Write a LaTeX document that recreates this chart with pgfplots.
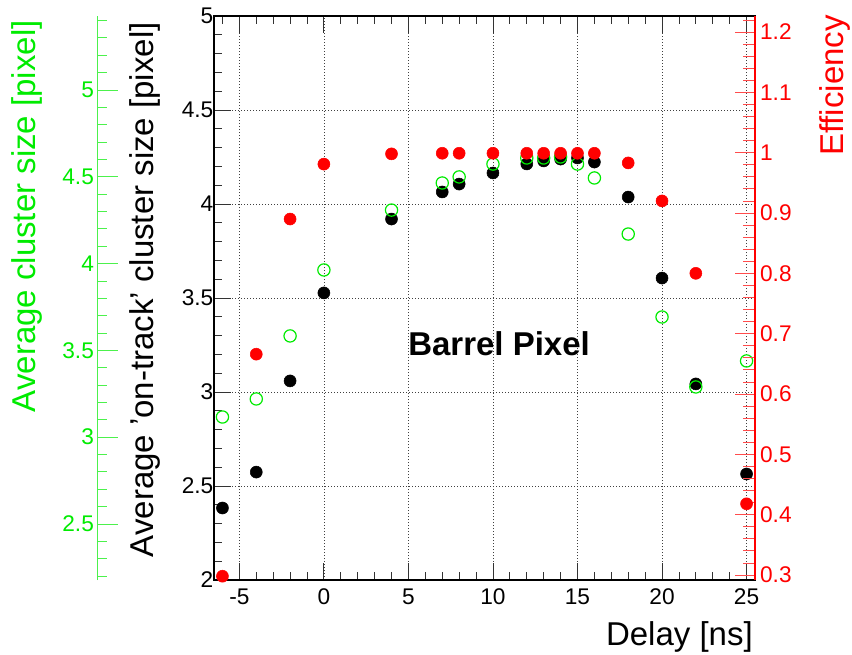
\documentclass[border=0pt]{standalone}
\usepackage{fontspec}
\setmainfont{Liberation Sans}
\usepackage{pgfplots}
\usepackage{pgfplotstable}
\pgfplotsset{compat=1.18}

\definecolor{rgreen}{RGB}{0,235,0}
\definecolor{rred}{RGB}{255,0,0}

% delay scan: on-track cluster size, all-cluster size, efficiency
\pgfplotstableread{
delay ontrack allclus eff
-6   2.383  3.116  0.298
-4   2.574  3.220  0.666
-2   3.059  3.583  0.890
 0   3.527  3.963  0.981
 4   3.920  4.308  0.998
 7   4.064  4.464  0.999
 8   4.106  4.499  0.999
10   4.165  4.573  0.999
12   4.213  4.608  0.999
13   4.229  4.608  0.999
14   4.239  4.614  0.999
15   4.245  4.573  0.999
16   4.223  4.493  0.999
18   4.037  4.170  0.983
20   3.606  3.692  0.920
22   3.043  3.289  0.800
25   2.564  3.439  0.418
}\scan

\pgfplotsset{
  frame/.style={
    scale only axis, width=405.75pt, height=423pt,
    at={(160.5pt,55.5pt)}, anchor=south west,
    xmin=-6.5, xmax=25.5, clip=false,
    /pgf/number format/assume math mode=true,
    tick label style={font=\fontsize{17}{20}\selectfont},
  },
}

\begin{document}
\begin{tikzpicture}
\useasboundingbox (0,0) rectangle (639pt,490.5pt);

% main frame: on-track cluster size
\begin{axis}[frame, ymin=2, ymax=5,
  xtick={-5,0,5,10,15,20,25},
  minor xtick={-6,-4,-3,-2,-1,1,2,3,4,6,7,8,9,11,12,13,14,16,17,18,19,21,22,23,24},
  ytick={2,2.5,3,3.5,4,4.5,5},
  yticklabels={2,2.5,3,3.5,4,4.5,5},
  minor y tick num=4,
  xtick pos=both, ytick pos=left, tick align=inside,
  major tick length=12.5pt, minor tick length=6pt,
  grid=major,
  major grid style={black!75, line width=0.45pt, dash pattern=on 0.45pt off 1.8pt},
  axis line style={line width=1.2pt},
  tick style={black!80, line width=0.6pt},
  xticklabel style={yshift=-3pt},
  yticklabel style={xshift=3pt},
]
\addplot[only marks, mark=*, mark size=4.5pt, black] table[x=delay,y=ontrack]{\scan};
\end{axis}

% left axis: all clusters
\begin{axis}[frame, at={(72.75pt,55.5pt)}, width=493.5pt,
  xmin=-13.421, xmax=25.5, ymin=2.177, ymax=5.426,
  axis x line=none, axis y line=left,
  y axis line style={-, rgreen!70, line width=0.6pt},
  tick align=inside,
  ytick={2.5,3,3.5,4,4.5,5}, yticklabels={2.5,3,3.5,4,4.5,5},
  minor ytick={2.2,2.3,2.4,2.6,2.7,2.8,2.9,3.1,3.2,3.3,3.4,3.6,3.7,3.8,3.9,4.1,4.2,4.3,4.4,4.6,4.7,4.8,4.9,5.1,5.2,5.3,5.4},
  major tick length=15.75pt, minor tick length=7.5pt,
  tick style={rgreen!70, line width=0.6pt},
  yticklabel style={rgreen, xshift=1.2pt},
]
\addplot[only marks, mark=o, mark size=4.6pt, rgreen, mark options={line width=0.9pt}] table[x=delay,y=allclus]{\scan};
\end{axis}

% right axis: efficiency
\begin{axis}[frame, ymin=0.2917, ymax=1.2265,
  axis x line=none, axis y line=right,
  y axis line style={-, rred, line width=0.8pt},
  tick align=inside,
  ytick={0.3,0.4,0.5,0.6,0.7,0.8,0.9,1,1.1,1.2},
  yticklabels={0.3,0.4,0.5,0.6,0.7,0.8,0.9,1,1.1,1.2},
  minor ytick={0.32,0.34,0.36,0.38,0.42,0.44,0.46,0.48,0.52,0.54,0.56,0.58,0.62,0.64,0.66,0.68,0.72,0.74,0.76,0.78,0.82,0.84,0.86,0.88,0.92,0.94,0.96,0.98,1.02,1.04,1.06,1.08,1.12,1.14,1.16,1.18,1.22},
  major tick length=15pt, minor tick length=9pt,
  tick style={rred!70, line width=0.6pt},
  yticklabel style={rred, xshift=0.3pt},
]
\addplot[only marks, mark=*, mark size=4.5pt, rred] table[x=delay,y=eff]{\scan};
\end{axis}

% titles
\node[rotate=90, anchor=base east, inner sep=0, font=\fontsize{24.75}{28}\selectfont]
  at (114.75pt,474pt) {Average 'on-track' cluster size [pixel]};
\node[rotate=90, anchor=base east, inner sep=0, text=rgreen, font=\fontsize{24.75}{28}\selectfont]
  at (26.25pt,475.5pt) {Average cluster size [pixel]};
\node[rotate=90, anchor=base east, inner sep=0, text=rred, font=\fontsize{24.75}{28}\selectfont]
  at (632.25pt,479.25pt) {Efficiency};
\node[anchor=base east, inner sep=0, font=\fontsize{24.75}{28}\selectfont]
  at (564.75pt,6.75pt) {Delay [ns]};
\node[anchor=base west, inner sep=0, font=\fontsize{24.75}{28}\selectfont\bfseries]
  at (306pt,224.25pt) {Barrel Pixel};
\end{tikzpicture}
\end{document}
